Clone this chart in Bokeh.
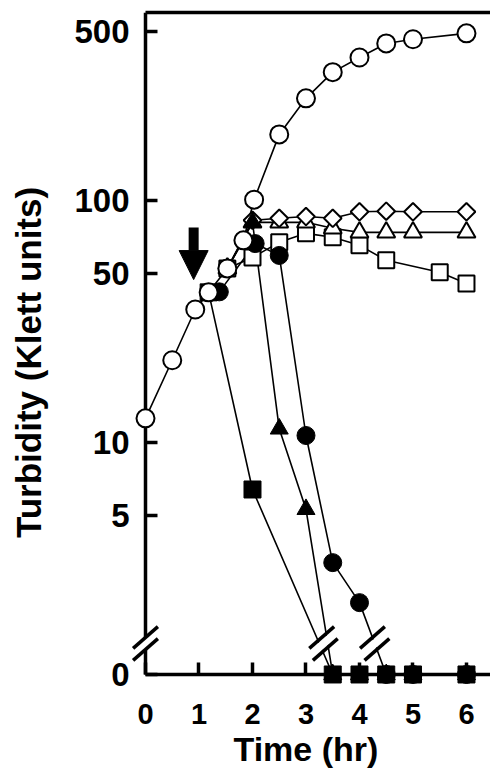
import math
from bokeh.plotting import figure
from bokeh.models import (Range1d, FixedTicker, LinearAxis, LogAxis, Title, Arrow,
                          NormalHead, CustomJSTickFormatter)
from bokeh.embed import file_html
from bokeh.resources import INLINE

# ---------------- data ----------------
TIME_TICKS = [0, 1, 2, 3, 4, 5, 6]
TURB_TICKS = [0, 5, 10, 50, 100, 500]

# open circles: untreated control
ctrl_t = [0, 0.5, 0.93, 1.18, 1.53, 1.83, 2.03, 2.5, 3.0, 3.5, 4.0, 4.5, 5.0, 6.0]
ctrl_v = [12.6, 21.9, 35.5, 41.8, 52.5, 68.6, 101, 188, 265, 340, 391, 447, 465, 492]

# filled squares
fsq_t = [1.18, 2.0, 3.5, 4.0, 4.5, 5.0, 6.0]
fsq_v = [41.8, 6.4, 0, 0, 0, 0, 0]

# filled triangles
ftri_t = [1.53, 2.0, 2.5, 3.0, 3.5, 4.0, 4.5, 5.0, 6.0]
ftri_v = [52.5, 81.4, 11.4, 5.3, 0, 0, 0, 0, 0]

# filled circles
fcir_t = [1.38, 2.05, 2.5, 3.0, 3.5, 4.0, 4.5, 5.0, 6.0]
fcir_v = [42.0, 66.5, 59.4, 10.7, 3.19, 2.18, 0, 0, 0]

# open triangles
otri_t = [1.53, 2.0, 2.5, 3.0, 3.5, 4.0, 4.5, 5.0, 6.0]
otri_v = [52.5, 81.4, 81.4, 81.4, 77.0, 74.0, 74.0, 74.0, 74.0]

# open diamonds
odia_t = [1.53, 2.0, 2.5, 3.0, 3.5, 4.0, 4.5, 5.0, 6.0]
odia_v = [52.5, 83.0, 84.6, 86.0, 84.6, 90.0, 90.5, 90.0, 90.0]

# open squares
osq_t = [1.53, 2.0, 2.5, 3.0, 3.5, 4.0, 4.5, 5.5, 6.0]
osq_v = [52.5, 58.3, 67.3, 73.3, 70.6, 65.4, 56.7, 50.6, 45.5]

# treatment arrow (time, turbidity span)
arrow_t = 0.9
arrow_v = (77.5, 47.2)

# ---------------- layout constants ----------------
ZERO_POS = 1.1          # where "0" sits on the broken log axis
X_RANGE = (-0.187, 6.449)
Y_RANGE = (0.766, 600)
BREAK_HI, BREAK_MID, BREAK_LO = 1.565, 1.477, 1.395
FONT = "Liberation Sans"


def pos(vals):
    return [ZERO_POS if v == 0 else v for v in vals]


p = figure(width=490, height=782, x_range=Range1d(*X_RANGE),
           y_range=Range1d(*Y_RANGE), y_axis_type="log",
           x_axis_location=None, y_axis_location=None,
           output_backend="svg", toolbar_location=None,
           min_border_left=135, min_border_right=0,
           min_border_top=12, min_border_bottom=70)
p.grid.visible = False
p.outline_line_color = None
p.background_fill_color = "white"
p.border_fill_color = "white"

NO_LABELS = "return '';"


def line_axis(ax):
    ax.axis_line_width = 3.5
    ax.axis_line_color = "black"
    ax.major_tick_line_width = 3.5
    ax.major_tick_line_color = "black"
    ax.major_tick_in = 12
    ax.major_tick_out = 0
    ax.minor_tick_line_color = None
    ax.formatter = CustomJSTickFormatter(code=NO_LABELS)
    ax.major_label_standoff = 0
    return ax


def label_axis(ax, size, standoff):
    ax.axis_line_color = None
    ax.major_tick_line_color = None
    ax.minor_tick_line_color = None
    ax.major_tick_in = 0
    ax.major_tick_out = 0
    ax.major_label_text_font = FONT
    ax.major_label_text_font_style = "bold"
    ax.major_label_text_color = "black"
    ax.major_label_text_font_size = size
    ax.major_label_standoff = standoff
    return ax


# axis lines + inward ticks, drawn at x = 0 and at the "0" level
y_line = line_axis(LogAxis(ticker=FixedTicker(ticks=pos(TURB_TICKS)),
                           fixed_location=0, bounds=(ZERO_POS, Y_RANGE[1])))
x_line = line_axis(LinearAxis(ticker=FixedTicker(ticks=TIME_TICKS),
                              fixed_location=ZERO_POS, bounds=(0, X_RANGE[1])))
p.add_layout(y_line, "left")
p.add_layout(x_line, "below")

# tick labels (+ y title)
y_lab = label_axis(LogAxis(ticker=FixedTicker(ticks=pos(TURB_TICKS)),
                           formatter=CustomJSTickFormatter(
                               code="return tick < 2 ? '0' : tick.toFixed(0);")),
                   "33px", 6)
y_lab.axis_label = "Turbidity (Klett units)"
y_lab.axis_label_text_font = FONT
y_lab.axis_label_text_font_style = "bold"
y_lab.axis_label_text_font_size = "35px"
y_lab.axis_label_text_color = "black"
y_lab.axis_label_standoff = 23
x_lab = label_axis(LinearAxis(ticker=FixedTicker(ticks=TIME_TICKS)), "29px", -9)
p.add_layout(y_lab, "left")
p.add_layout(x_lab, "below")

# empty spacer between tick labels and the x title
spacer = LinearAxis(ticker=FixedTicker(ticks=[]), major_tick_in=0, major_tick_out=9,
                    minor_tick_out=0, major_label_standoff=0,
                    axis_line_color=None, formatter=CustomJSTickFormatter(code=NO_LABELS))
p.add_layout(spacer, "below")

# top border
top = LinearAxis(ticker=FixedTicker(ticks=[]), major_tick_in=0, major_tick_out=0,
                 major_label_standoff=0, axis_line_width=3.5,
                 axis_line_color="black", bounds=(0, X_RANGE[1]))
p.add_layout(top, "above")

# x title
p.add_layout(Title(text="Time (hr)", align="left", offset=98, standoff=2,
                   text_font=FONT, text_font_style="bold",
                   text_font_size="34px", text_color="black"), "below")

series = [
    (fsq_t, fsq_v), (ftri_t, ftri_v), (fcir_t, fcir_v),
    (otri_t, otri_v), (odia_t, odia_v), (osq_t, osq_v), (ctrl_t, ctrl_v),
]
for t, v in series:
    p.line(t, pos(v), line_color="black", line_width=1.6, level="overlay")

# ---- axis / line breaks ----
lg = math.log10
groups = {}
for t, v in series:
    for i in range(len(v) - 1):
        if v[i] > 0 and v[i + 1] == 0:
            x0, y0, x1 = t[i], v[i], t[i + 1]

            def xat(yb, x0=x0, y0=y0, x1=x1):
                f = (lg(y0) - lg(yb)) / (lg(y0) - lg(ZERO_POS))
                return x0 + f * (x1 - x0)
            groups.setdefault(x1, []).append((xat(BREAK_HI), xat(BREAK_MID), xat(BREAK_LO)))

bx_hi, bx_mid, bx_lo = [0.0], [0.0], [0.0]
for k, lst in groups.items():
    bx_hi.append(sum(a[0] for a in lst) / len(lst))
    bx_mid.append(sum(a[1] for a in lst) / len(lst))
    bx_lo.append(sum(a[2] for a in lst) / len(lst))

p.scatter(bx_mid, [BREAK_MID] * len(bx_mid), marker="dash", angle=0.72, size=36,
          line_color="white", line_width=8, level="overlay")
p.scatter(bx_hi + bx_lo, [BREAK_HI] * len(bx_hi) + [BREAK_LO] * len(bx_lo),
          marker="dash", angle=0.72, size=33, line_color="black", line_width=3.5,
          level="overlay")

# ---- markers ----
p.scatter(fsq_t, pos(fsq_v), marker="square", size=17, fill_color="black",
          line_color="black", line_width=1, level="overlay")
p.scatter(osq_t, pos(osq_v), marker="square", size=16, fill_color="white",
          line_color="black", line_width=2, level="overlay")
p.scatter(otri_t, pos(otri_v), marker="triangle", size=18, fill_color="white",
          line_color="black", line_width=2, level="overlay")
p.scatter(odia_t, pos(odia_v), marker="square", angle=math.pi / 4, size=12.5,
          fill_color="white", line_color="black", line_width=2, level="overlay")
p.scatter(ftri_t, pos(ftri_v), marker="triangle", size=18, fill_color="black",
          line_color="black", line_width=1, level="overlay")
p.scatter(fcir_t, pos(fcir_v), marker="circle", size=18, fill_color="black",
          line_color="black", line_width=1, level="overlay")
p.scatter(ctrl_t, pos(ctrl_v), marker="circle", size=18, fill_color="white",
          line_color="black", line_width=2, level="overlay")

# ---- arrow ----
p.add_layout(Arrow(end=NormalHead(size=29, fill_color="black", line_color="black"),
                   x_start=arrow_t, y_start=arrow_v[0], x_end=arrow_t, y_end=arrow_v[1],
                   line_width=10, line_color="black"))

open("out.html", "w").write(file_html(p, INLINE))
